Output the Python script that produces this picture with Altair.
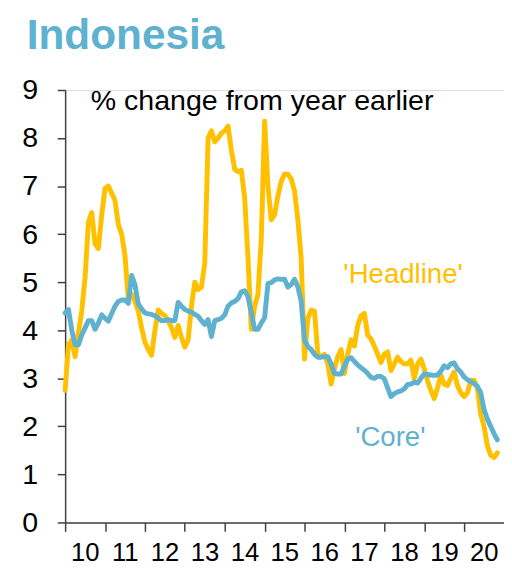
import altair as alt
import pandas as pd

# Monthly data, Jan 2010 .. Nov 2020 (% change from year earlier)
headline = [
    2.75, 3.70, 3.80, 3.45, 3.95, 4.40, 5.10, 6.25, 6.45, 5.80, 5.70, 6.40,
    6.95, 7.00, 6.85, 6.70, 6.20, 6.00, 5.55, 4.65, 4.75, 4.60, 4.40, 4.05,
    3.75, 3.60, 3.48, 4.00, 4.42, 4.35, 4.30, 4.20, 4.05, 3.85, 4.10, 3.85,
    3.65, 3.80, 4.50, 5.00, 4.85, 4.90, 5.40, 8.00, 8.15, 7.92, 8.00, 8.10,
    8.15, 8.25, 7.75, 7.35, 7.30, 7.33, 6.75, 5.50, 4.02, 4.50, 4.75, 5.90,
    8.35, 7.00, 6.30, 6.40, 6.80, 7.10, 7.25, 7.25, 7.15, 6.90, 6.30, 5.50,
    3.40, 4.25, 4.42, 4.40, 3.50, 3.45, 3.50, 3.30, 2.88, 3.20, 3.45, 3.60,
    3.10, 3.50, 3.80, 3.67, 4.10, 4.30, 4.35, 3.90, 3.82, 3.67, 3.50, 3.33,
    3.50, 3.55, 3.16, 3.30, 3.44, 3.35, 3.30, 3.30, 3.38, 3.00, 3.30, 3.40,
    3.20, 2.95, 2.75, 2.58, 2.80, 3.06, 2.88, 2.85, 3.00, 3.13, 2.85, 2.70,
    2.62, 2.70, 2.95, 2.96, 2.80, 2.25, 2.00, 1.60, 1.40, 1.35, 1.45,
]
core = [
    4.36, 4.43, 4.00, 3.70, 3.70, 3.90, 4.05, 4.20, 4.20, 4.02, 4.15, 4.32,
    4.25, 4.19, 4.35, 4.50, 4.60, 4.63, 4.63, 4.56, 5.14, 4.95, 4.55, 4.45,
    4.36, 4.34, 4.33, 4.30, 4.25, 4.20, 4.20, 4.22, 4.20, 4.20, 4.58, 4.50,
    4.43, 4.40, 4.38, 4.33, 4.29, 4.20, 4.12, 4.22, 3.87, 4.20, 4.22, 4.25,
    4.32, 4.50, 4.57, 4.60, 4.66, 4.80, 4.82, 4.70, 4.36, 4.02, 4.02, 4.15,
    4.26, 4.97, 4.99, 5.05, 5.07, 5.06, 5.06, 4.90, 4.95, 5.06, 4.90, 4.60,
    3.80, 3.66, 3.60, 3.50, 3.44, 3.44, 3.45, 3.45, 3.30, 3.10, 3.09, 3.09,
    3.25, 3.40, 3.43, 3.35, 3.28, 3.22, 3.17, 3.10, 3.02, 3.00, 3.04, 3.04,
    2.99, 2.80, 2.62, 2.68, 2.72, 2.74, 2.78, 2.87, 2.88, 2.92, 2.90, 3.00,
    3.09, 3.08, 3.07, 3.06, 3.07, 3.15, 3.26, 3.22, 3.30, 3.32, 3.20, 3.13,
    3.03, 2.97, 2.93, 2.89, 2.83, 2.70, 2.35, 2.15, 2.00, 1.85, 1.72,
]
start_year = 2010
year_ticks = list(range(2010, 2022))

labels = ["'Headline'", "'Core'"]
label_t = [2018.47, 2018.15]
label_v = [5.14, 1.76]

GOLD = "#FFC000"
TEAL = "#5EB1CF"
FONT = "Liberation Sans"

t = [start_year + i / 12 for i in range(len(headline))]
df = pd.DataFrame({
    "t": t * 2,
    "v": headline + core,
    "s": ["Headline"] * len(headline) + ["Core"] * len(core),
})
lab_df = pd.DataFrame({"label": labels, "t": label_t, "v": label_v,
                       "s": ["Headline", "Core"]})

x_scale = alt.Scale(domain=[2010, 2021], nice=False, zero=False)
y_scale = alt.Scale(domain=[0, 9], nice=False)
color_scale = alt.Scale(domain=["Headline", "Core"], range=[GOLD, TEAL])

lines = alt.Chart(df).mark_line(strokeWidth=5, strokeJoin="round", strokeCap="round").encode(
    x=alt.X("t:Q", scale=x_scale,
            axis=alt.Axis(values=year_ticks, title=None, grid=False,
                          labelExpr="datum.value < 2021 ? substring(toString(datum.value), 2, 4) : ''",
                          labelOffset=20, labelPadding=9, tickSize=9,
                          labelFontSize=26, labelFont=FONT, labelColor="#000000",
                          domainColor="#404040", tickColor="#404040",
                          domainWidth=1.5, tickWidth=1.5, labelFlush=False)),
    y=alt.Y("v:Q", scale=y_scale,
            axis=alt.Axis(values=list(range(0, 10)), title=None, grid=False,
                          tickSize=8, labelPadding=20, labelFontSize=29,
                          labelFont=FONT, labelColor="#000000",
                          domainColor="#404040", tickColor="#404040",
                          domainWidth=1.5, tickWidth=1.5)),
    color=alt.Color("s:N", scale=color_scale, legend=None),
    order=alt.Order("s:N", sort="descending"),
    detail="s:N",
)

series_labels = alt.Chart(lab_df).mark_text(fontSize=28, font=FONT, align="center",
                                            baseline="middle").encode(
    x=alt.X("t:Q", scale=x_scale),
    y=alt.Y("v:Q", scale=y_scale),
    text="label:N",
    color=alt.Color("s:N", scale=color_scale, legend=None),
)

title = alt.Chart(pd.DataFrame({"txt": ["Indonesia"]})).mark_text(
    font=FONT, fontSize=43, fontWeight="bold", color=TEAL, align="left",
    baseline="alphabetic").encode(
    x=alt.value(-39), y=alt.value(-42), text="txt:N")

subtitle = alt.Chart(pd.DataFrame({"txt": ["% change from year earlier"]})).mark_text(
    font=FONT, fontSize=29, color="#000000", align="left",
    baseline="alphabetic").encode(
    x=alt.value(26), y=alt.value(20), text="txt:N")

chart = alt.layer(lines, series_labels, title, subtitle).properties(
    width=445.5, height=439,
    autosize=alt.AutoSizeParams(type="none"),
    padding={"left": 58, "top": 79, "right": 0, "bottom": 43},
).configure_view(stroke=None).configure(background="white")

chart.save("out.html", embed_options={"renderer": "svg", "actions": False})
